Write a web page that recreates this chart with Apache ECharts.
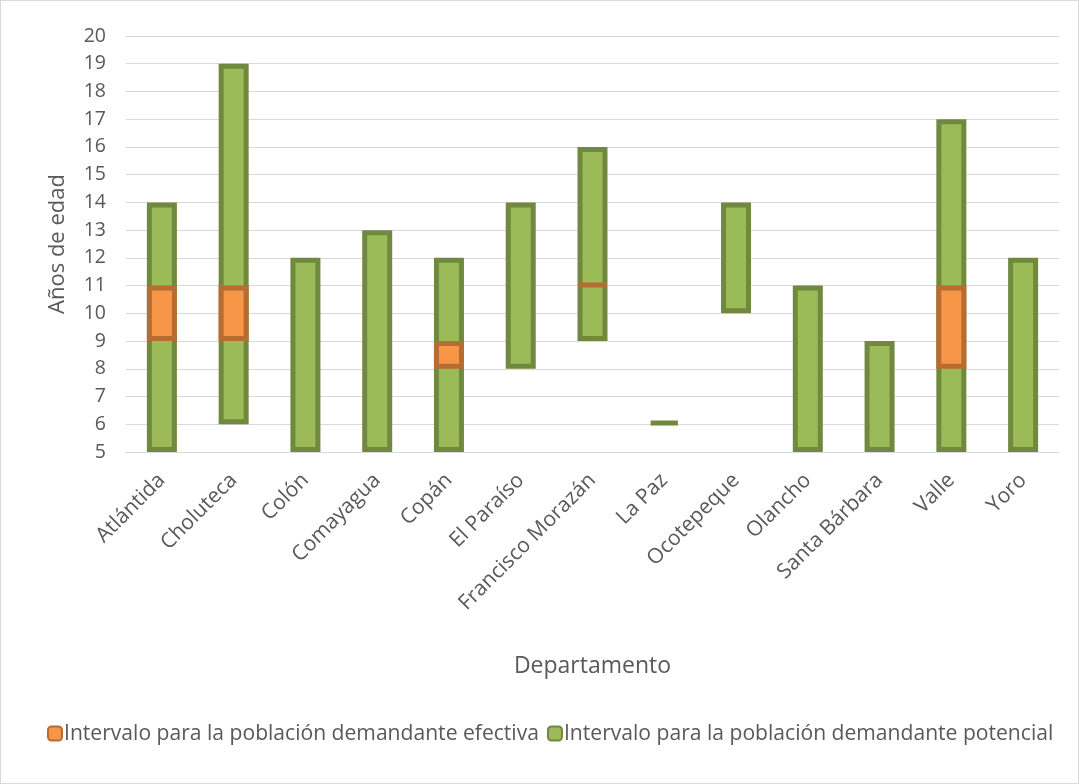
<!DOCTYPE html>
<html><head><meta charset="utf-8">
<script src="https://cdn.jsdelivr.net/npm/echarts@6/dist/echarts.min.js"></script>
<style>html,body{margin:0;padding:0;background:#fff}#c{width:1077px;height:782px;border:1px solid #D9D9D9}</style>
</head><body><div id="c"></div>
<script>
const categories = ['Atlántida','Choluteca','Colón','Comayagua','Copán','El Paraíso','Francisco Morazán','La Paz','Ocotepeque','Olancho','Santa Bárbara','Valle','Yoro'];
const potentialLow  = [5, 6, 5, 5, 5, 8, 9, 6, 10, 5, 5, 5, 5];
const potentialHigh = [14, 19, 12, 13, 12, 14, 16, 6.1, 14, 11, 9, 17, 12];
const effectiveLow  = [9, 9, null, null, 8, null, 11, null, null, null, null, 8, null];
const effectiveHigh = [11, 11, null, null, 9, null, 11.05, null, null, null, null, 11, null];
const yTicks = {min: 5, max: 20, interval: 1};

const FONT = 'Open Sans';
const potLen = potentialHigh.map((h, i) => +(h - potentialLow[i]).toFixed(3));
const effLen = effectiveHigh.map((h, i) => h == null ? null : +(h - effectiveLow[i]).toFixed(3));

const chart = echarts.init(document.getElementById('c'));
chart.setOption({
  animation: false,
  textStyle: {fontFamily: FONT, color: '#595959'},
  grid: {left: 125, right: 19, top: 35, bottom: 331},
  legend: {
    data: ['Intervalo para la población demandante efectiva', 'Intervalo para la población demandante potencial'],
    bottom: 34, left: 41, itemWidth: 14, itemHeight: 14, itemGap: 8,
    textStyle: {fontFamily: FONT, fontSize: 21.1, color: '#595959', padding: [0, 0, 0, -3]}
  },
  xAxis: {
    type: 'category', data: categories,
    name: 'Departamento', nameLocation: 'middle', nameGap: 203,
    nameTextStyle: {fontFamily: FONT, fontSize: 23, color: '#595959'},
    axisLine: {show: true, lineStyle: {color: '#D9D9D9'}},
    axisTick: {show: false},
    axisLabel: {rotate: 45, interval: 0, fontFamily: FONT, fontSize: 21, color: '#595959', margin: 25}
  },
  yAxis: {
    type: 'value', min: yTicks.min, max: yTicks.max, interval: yTicks.interval,
    name: 'Años de edad', nameLocation: 'middle', nameGap: 57,
    nameTextStyle: {fontFamily: FONT, fontSize: 22, color: '#595959'},
    axisLine: {show: false}, axisTick: {show: false},
    axisLabel: {fontFamily: FONT, fontSize: 19.5, color: '#595959', margin: 20},
    splitLine: {lineStyle: {color: '#D9D9D9', width: 1}}
  },
  series: [
    {name: 'baseP', type: 'bar', stack: 'p', data: potentialLow, barWidth: 30,
     itemStyle: {color: 'transparent'}, silent: true},
    {name: 'Intervalo para la población demandante potencial', type: 'bar', stack: 'p', data: potLen, barWidth: 30,
     itemStyle: {color: '#9BBB59', borderColor: '#71893F', borderWidth: 5}},
    {name: 'baseE', type: 'bar', stack: 'e', data: effectiveLow, barWidth: 30, barGap: '-100%',
     itemStyle: {color: 'transparent'}, silent: true},
    {name: 'Intervalo para la población demandante efectiva', type: 'bar', stack: 'e', data: effLen, barWidth: 30, barGap: '-100%',
     itemStyle: {color: '#F79646', borderColor: '#B66D31', borderWidth: 5}}
  ]
});
</script></body></html>
